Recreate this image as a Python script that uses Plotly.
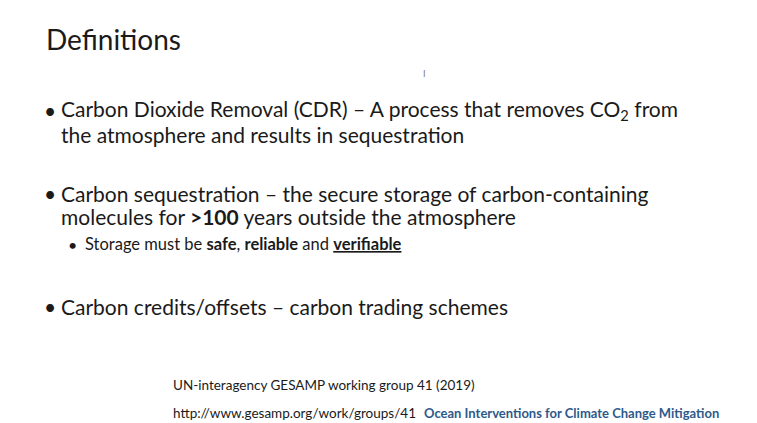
import plotly.graph_objects as go

W, H = 757, 423
FONT = "Lato"

title = "Definitions"
bullets = [
    ("Carbon Dioxide Removal (CDR) – A process that removes CO<sub>2</sub> from", 102, 0),
    ("the atmosphere and results in sequestration", 126, None),
    ("Carbon sequestration – the secure storage of carbon-containing", 185, 0),
    ("molecules for <b>>100</b> years outside the atmosphere", 209, None),
    ("Storage must be <b>safe</b>, <b>reliable</b> and <b><u>verifiable</u></b>", 236, 1),
    ("Carbon credits/offsets – carbon trading schemes", 298, 0),
]
source = "UN-interagency GESAMP working group 41 (2019)"
url = "http://www.gesamp.org/work/groups/41"
link_title = "Ocean Interventions for Climate Change Mitigation"


def px_ann(x, y, text, size, color="#1a1a1a", xanchor="left"):
    return dict(x=x / W, y=1 - y / H, xref="paper", yref="paper", text=text,
                showarrow=False, xanchor=xanchor, yanchor="middle",
                font=dict(family=FONT, size=size, color=color))


anns = [px_ann(36, 31, title, 28)]
for text, y, level in bullets:
    if level == 0:
        anns.append(px_ann(34, y, "•", 21))
        anns.append(px_ann(51, y, text, 21))
    elif level == 1:
        anns.append(px_ann(58, y, "•", 16))
        anns.append(px_ann(75, y, text, 16.5))
    else:
        anns.append(px_ann(51, y, text, 21))

anns.append(px_ann(163, 377, source, 13.5))
anns.append(px_ann(163, 405, url, 13.5))
anns.append(px_ann(414, 405, "<b>" + link_title + "</b>", 13, color="#2e5a8a"))
anns.append(px_ann(413, 65, "I", 9, color="#777"))

fig = go.Figure()
fig.update_layout(
    width=W, height=H, margin=dict(l=0, r=0, t=0, b=0),
    paper_bgcolor="white", plot_bgcolor="white",
    xaxis=dict(visible=False), yaxis=dict(visible=False),
    annotations=anns,
    shapes=[dict(type="rect", xref="paper", yref="paper", x0=0.99, x1=1, y0=0, y1=1,
                 fillcolor="#f0f0f0", line_width=0, layer="below")],
)
fig.write_html("out.html")
